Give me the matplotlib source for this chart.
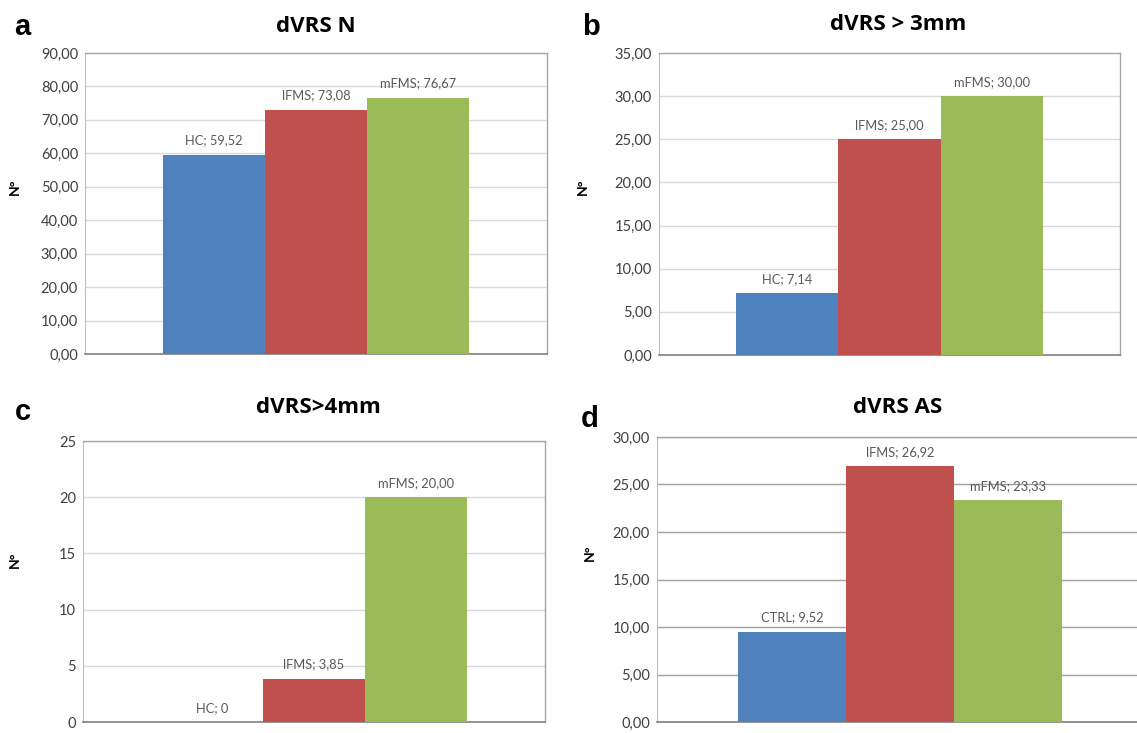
import matplotlib
matplotlib.use("Agg")
import matplotlib.pyplot as plt
from matplotlib.ticker import FuncFormatter, MultipleLocator

W, H = 1137, 733

# ---- data ----
titles = ["dVRS N", "dVRS > 3mm", "dVRS>4mm", "dVRS AS"]
letters = ["a", "b", "c", "d"]
groups_a = ["HC", "lFMS", "mFMS"]
groups_d = ["CTRL", "lFMS", "mFMS"]
values_a = [59.52, 73.08, 76.67]
values_b = [7.14, 25.00, 30.00]
values_c = [0, 3.85, 20.00]
values_d = [9.52, 26.92, 23.33]
ymax = [90, 35, 25, 30]
ystep = [10, 5, 5, 5]
int_ticks = [False, False, True, False]

colors = ["#4F81BD", "#C0504D", "#9BBB59"]

fig = plt.figure(figsize=(W / 100, H / 100), dpi=100)
fig.patch.set_facecolor("white")

# panel boxes in pixels: left, right, top, bottom
boxes = [(85, 547, 53, 354), (659, 1120, 53, 355), (83, 545, 441, 722), (657, 1143, 437, 722)]
half = [2.265, 2.25, 2.265, 2.25]
title_pos = [(316, 32), (898, 30), (318, 413), (898, 413)]   # baseline
letter_pos = [(22, 35), (591, 35), (23, 420), (590, 427)]    # baseline
ylab_pos = [(15, 187), (583, 187), (15, 560), (590, 553)]
grid_col = ["#d9d9d9", "#d9d9d9", "#d9d9d9", "#a0a0a0"]

all_vals = [values_a, values_b, values_c, values_d]
all_groups = [groups_a, groups_a, groups_a, groups_d]


def fmt_dec(v, pos=None):
    return f"{v:.2f}".replace(".", ",")


for i in range(4):
    l, r, t, b = boxes[i]
    ax = fig.add_axes([l / W, 1 - b / H, (r - l) / W, (b - t) / H])
    vals = all_vals[i]
    grps = all_groups[i]
    xs = [-1, 0, 1]
    ax.bar(xs, vals, width=1.0, color=colors, zorder=3, linewidth=0)
    ax.set_xlim(-half[i], half[i])
    ax.set_ylim(0, ymax[i])
    ax.yaxis.set_major_locator(MultipleLocator(ystep[i]))
    if int_ticks[i]:
        ax.yaxis.set_major_formatter(FuncFormatter(lambda v, p: f"{int(round(v))}"))
    else:
        ax.yaxis.set_major_formatter(FuncFormatter(fmt_dec))
    ax.set_xticks([])
    ax.tick_params(axis="y", length=0, pad=5, labelsize=10.5, labelcolor="#404040")
    for lab in ax.get_yticklabels():
        lab.set_fontfamily("Lato")
    ax.yaxis.grid(True, color=grid_col[i], linewidth=1.0, zorder=0)
    ax.set_axisbelow(True)
    for s in ["top", "right"]:
        ax.spines[s].set_color("#a6a6a6")
        ax.spines[s].set_linewidth(1.0)
    ax.spines["left"].set_color("#bfbfbf")
    ax.spines["bottom"].set_color("#808080")
    ax.spines["bottom"].set_linewidth(1.2)

    for x, v, g in zip(xs, vals, grps):
        if int_ticks[i] and v == 0:
            txt = f"{g}; 0"
        else:
            txt = f"{g}; {fmt_dec(v)}"
        ax.annotate(txt, (x, v), xytext=(0, 6), textcoords="offset points",
                    ha="center", va="bottom", fontsize=9.3, color="#595959",
                    family="Lato", zorder=5)

    tx, ty = title_pos[i]
    fig.text(tx / W, 1 - ty / H, titles[i], ha="center", va="baseline",
             fontsize=16, fontweight="bold", family="Open Sans")
    lx, ly = letter_pos[i]
    fig.text(lx / W, 1 - ly / H, letters[i], ha="center", va="baseline",
             fontsize=21, fontweight="bold", family="Liberation Sans")
    yx, yy = ylab_pos[i]
    fig.text(yx / W, 1 - yy / H, "N°", ha="center", va="center", rotation=90,
             fontsize=10, fontweight="bold", family="Lato")

fig.savefig("out.png", dpi=100, facecolor="white")
